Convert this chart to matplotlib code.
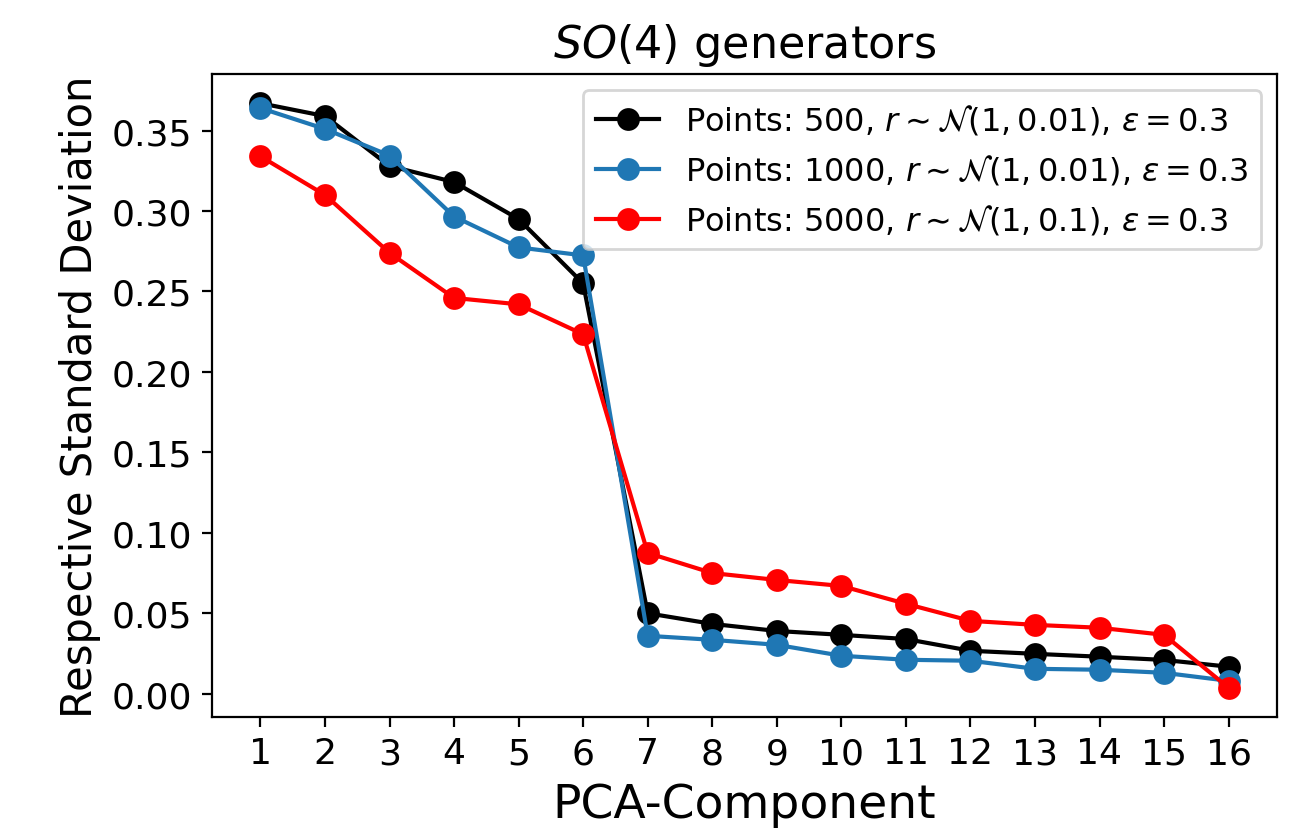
import matplotlib
matplotlib.use("Agg")
import matplotlib.pyplot as plt
import numpy as np

components = list(range(1, 17))
black_500 = [0.367, 0.359, 0.328, 0.318, 0.295, 0.255, 0.050, 0.0434, 0.039, 0.0366,
             0.034, 0.0267, 0.0248, 0.023, 0.021, 0.0168]
blue_1000 = [0.364, 0.351, 0.3345, 0.2966, 0.2774, 0.2724, 0.036, 0.0335, 0.0304, 0.0236,
             0.0211, 0.0205, 0.0155, 0.0149, 0.013, 0.008]
red_5000 = [0.334, 0.310, 0.274, 0.246, 0.242, 0.2234, 0.0875, 0.075, 0.0707, 0.067,
            0.0559, 0.0453, 0.0428, 0.041, 0.0366, 0.0037]
labels = [r"Points: 500, $r\sim\mathcal{N}(1,0.01)$, $\varepsilon=0.3$",
          r"Points: 1000, $r\sim\mathcal{N}(1,0.01)$, $\varepsilon=0.3$",
          r"Points: 5000, $r\sim\mathcal{N}(1,0.1)$, $\varepsilon=0.3$"]

fig = plt.figure(figsize=(6.485, 4.185), dpi=200)
ax = fig.add_axes([212/1297, 1-718/837, (1277-212)/1297, (718-75)/837])
ax.plot(components, black_500, 'o-', color='black', label=labels[0], markersize=7.2)
ax.plot(components, blue_1000, 'o-', color='#1f77b4', label=labels[1], markersize=7.2)
ax.plot(components, red_5000, 'o-', color='red', label=labels[2], markersize=7.2)
ax.set_xticks(components)
ax.tick_params(labelsize=13)
ax.set_xlabel("PCA-Component", fontsize=17)
ax.set_ylabel("Respective Standard Deviation", fontsize=15)
ax.set_title(r"$SO(4)$ generators", fontsize=16)
ax.legend(loc='upper right', fontsize=11.5)
fig.savefig("out.png", dpi=200)
